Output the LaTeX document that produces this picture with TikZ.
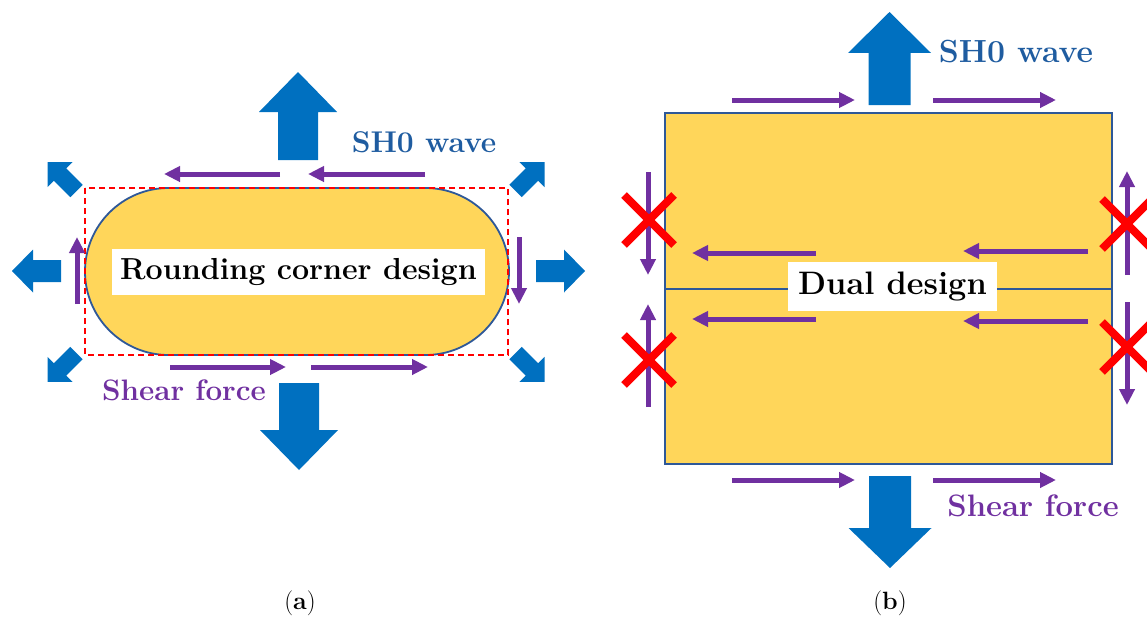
\documentclass[tikz,border=0pt]{standalone}
\usepackage{fontspec}
\usetikzlibrary{arrows.meta}
\definecolor{ylw}{RGB}{255,214,90}
\definecolor{edgeblue}{RGB}{46,88,152}
\definecolor{bigblue}{RGB}{0,112,192}
\definecolor{purp}{RGB}{112,48,160}
\definecolor{wavetxt}{RGB}{31,92,160}
\newcommand\fs[1]{\bfseries\fontsize{#1}{#1}\selectfont}
\newcommand\fn[1]{\fontsize{#1}{#1}\selectfont}
\tikzset{
  plate/.style={fill=ylw,draw=edgeblue,line width=1.8pt},
  shear/.style={draw=purp,line width=5pt,-{Triangle[length=16pt,width=15pt]}},
  bigarr/.style={fill=bigblue},
  cross/.style={draw=red,line width=8pt},
  labelbox/.style={fill=white,inner sep=0pt},
  wavelbl/.style={text=wavetxt},
  shearlbl/.style={text=purp},
  caplbl/.style={font=\fn{25}}
}
% x, y, angle, total length, head length, shaft half width, head half width
\newcommand\blockarrow[7]{%
  \fill[bigarr,shift={(#1,#2)},rotate=#3]
    (0,-#6) -- (#4-#5,-#6) -- (#4-#5,-#7) -- (#4,0) -- (#4-#5,#7) -- (#4-#5,#6) -- (0,#6) -- cycle;}
\begin{document}
\begin{tikzpicture}[x=1pt,y=-1pt]
\useasboundingbox (0,0) rectangle (1147,618);
% ---------------- panel (a)
\draw[plate,rounded corners=83.5pt] (85,188) rectangle (509,355);
\draw[red,line width=1.6pt,dash pattern=on 6pt off 4pt] (85,188) rectangle (508,355);
\node[labelbox,minimum width=373pt,minimum height=46pt,font=\fs{30.4}] (rcd) at (298.5,272) {Rounding corner design};
% big blue arrows
\blockarrow{298}{160}{90}{88}{40}{20}{39}
\blockarrow{299}{383}{-90}{87}{40}{20}{39}
\blockarrow{61}{271}{180}{49}{21}{11}{21.5}
\blockarrow{536}{271}{0}{49}{21}{11}{21.5}
\blockarrow{76.5}{191}{135}{41}{17.7}{8.8}{17.7}
\blockarrow{515.5}{191}{45}{41}{17.7}{8.8}{17.7}
\blockarrow{76.5}{353}{225}{41}{17.7}{8.8}{17.7}
\blockarrow{515.5}{353}{-45}{41}{17.7}{8.8}{17.7}
% shear arrows
\coordinate (a1s) at (280,174); \coordinate (a1e) at (164,174);
\coordinate (a2s) at (425,174); \coordinate (a2e) at (308,174);
\coordinate (a3s) at (170,367); \coordinate (a3e) at (286,367);
\coordinate (a4s) at (311,367); \coordinate (a4e) at (428,367);
\coordinate (a5s) at (77,304);  \coordinate (a5e) at (77,237);
\coordinate (a6s) at (519,237); \coordinate (a6e) at (519,304);
\foreach \s/\e in {a1s/a1e,a2s/a2e,a3s/a3e,a4s/a4e,a5s/a5e,a6s/a6e}
  \draw[shear] (\s) -- (\e);
\node[wavelbl,font=\fs{30}] (wa) at (424,142) {SH0 wave};
\node[shearlbl,font=\fs{29.6}] (sa) at (184,390) {Shear force};
\node[caplbl] (ca) at (300,603) {(\textbf{a})};
% ---------------- panel (b)
\draw[plate] (665,113) rectangle (1112,289);
\draw[plate] (665,289) rectangle (1112,464);
\node[labelbox,minimum width=209pt,minimum height=49pt,font=\fs{32.5}] (dd) at (892.5,286.5) {Dual design};
\blockarrow{889.5}{105}{90}{93}{41}{21}{41.5}
\blockarrow{890}{476}{-90}{92}{40}{21}{41.5}
\coordinate (b1s) at (732,100); \coordinate (b1e) at (855,100);
\coordinate (b2s) at (933,100); \coordinate (b2e) at (1056,100);
\coordinate (b3s) at (732,480); \coordinate (b3e) at (855,480);
\coordinate (b4s) at (933,480); \coordinate (b4e) at (1056,480);
\coordinate (b5s) at (816,253); \coordinate (b5e) at (692,253);
\coordinate (b6s) at (1088,251); \coordinate (b6e) at (963,251);
\coordinate (b7s) at (816,319); \coordinate (b7e) at (692,319);
\coordinate (b8s) at (1088,321); \coordinate (b8e) at (963,321);
\coordinate (b9s) at (648,172);  \coordinate (b9e) at (648,275);
\coordinate (b10s) at (648,407); \coordinate (b10e) at (648,304);
\coordinate (b11s) at (1127,275); \coordinate (b11e) at (1127,171);
\coordinate (b12s) at (1127,302); \coordinate (b12e) at (1127,405);
\foreach \s/\e in {b1s/b1e,b2s/b2e,b3s/b3e,b4s/b4e,b5s/b5e,b6s/b6e,b7s/b7e,b8s/b8e,b9s/b9e,b10s/b10e,b11s/b11e,b12s/b12e}
  \draw[shear] (\s) -- (\e);
% red crosses
\foreach \cx/\cy in {649/220,649/360,1127/224,1127/347}
  \draw[cross] (\cx-25,\cy-25) -- (\cx+25,\cy+25) (\cx-25,\cy+25) -- (\cx+25,\cy-25);
\node[wavelbl,font=\fs{32}] (wb) at (1016,52) {SH0 wave};
\node[shearlbl,font=\fs{31}] (sb) at (1033,506) {Shear force};
\node[caplbl] (cb) at (890,603) {(\textbf{b})};
\end{tikzpicture}
\end{document}
